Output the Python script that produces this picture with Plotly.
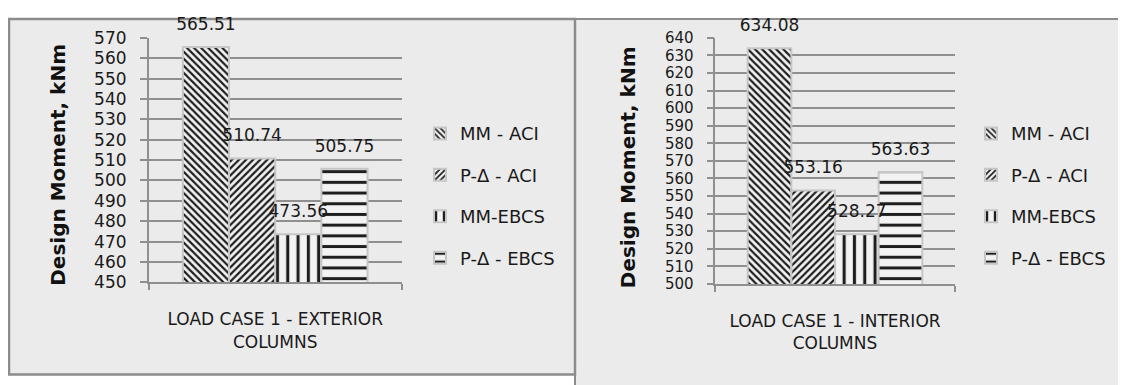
import plotly.graph_objects as go

# ---------------- data ----------------
series_names = ["MM - ACI", "P-Δ - ACI", "MM-EBCS", "P-Δ - EBCS"]
ext_category = ["LOAD CASE 1 - EXTERIOR COLUMNS"]
ext_ticktext = ["LOAD CASE 1 - EXTERIOR<br>COLUMNS"]
ext_values = [565.51, 510.74, 473.56, 505.75]
int_category = ["LOAD CASE 1 - INTERIOR COLUMNS"]
int_ticktext = ["LOAD CASE 1 - INTERIOR<br>COLUMNS"]
int_values = [634.08, 553.16, 528.27, 563.63]
ext_yrange = [450, 570]
int_yrange = [500, 640]
y_title = "Design Moment, kNm"

# ---------------- styles ----------------
FONT = "DejaVu Sans"
patterns = [
    dict(shape="\\", size=5, solidity=0.45),
    dict(shape="/", size=5, solidity=0.45),
    dict(shape="|", size=10.3, solidity=0.3),
    dict(shape="-", size=10.7, solidity=0.28),
]
BAR_BG = "#f3f3f3"
BAR_FG = "#1e1e1e"
GRID = "#8f8f8f"
PANEL = "#ebebeb"
BORDER = "#8c8c8c"
W, H = 1118, 378
# mapping from picture pixels to figure pixels (page offset / photo scale)
OX, OY, SY = 8, 16, 0.952

fig = go.Figure()

def add_panel(cat, values, xa, ya, legend_name):
    for i, (name, val) in enumerate(zip(series_names, values)):
        p = patterns[i]
        fig.add_trace(go.Bar(
            x=cat, y=[val], name=name, xaxis=xa, yaxis=ya,
            offsetgroup=str(i), legend=legend_name, showlegend=True,
            marker=dict(color=BAR_BG,
                        line=dict(color="#c6c6c6", width=2),
                        pattern=dict(shape=p["shape"], size=p["size"],
                                     solidity=p["solidity"], fgcolor=BAR_FG,
                                     bgcolor=BAR_BG, fillmode="replace")),
            hoverinfo="skip",
        ))
    for i, (name, val) in enumerate(zip(series_names, values)):
        fig.add_trace(go.Scatter(
            x=cat, y=[val], xaxis=xa, yaxis=ya, mode="markers+text",
            offsetgroup=str(i), showlegend=False,
            text=[f"{val:.2f}"], textposition="top center",
            textfont=dict(family=FONT, size=17, color="#1a1a1a"),
            marker=dict(size=19, color="rgba(0,0,0,0)"),
            cliponaxis=False, hoverinfo="skip",
        ))

add_panel(ext_category, ext_values, "x", "y", "legend")
add_panel(int_category, int_values, "x2", "y2", "legend2")

def px_x(v):
    return (v - OX) / W

def fy(v):
    return (v - OY) / SY

def px_y(v):
    return 1 - fy(v) / H

axis_common = dict(
    showline=True, linecolor=GRID, linewidth=1.5,
    ticks="outside", tickcolor=GRID, tickwidth=1.5,
)
xtickfont = dict(family=FONT, size=17, color="#1a1a1a")

fig.update_layout(
    width=W, height=H,
    margin=dict(l=0, r=0, t=0, b=0),
    paper_bgcolor="white", plot_bgcolor="rgba(0,0,0,0)",
    barmode="group", bargap=0.27, bargroupgap=0,
    scattermode="group", scattergap=0.27,
    xaxis=dict(domain=[px_x(148.7), px_x(401.7)], anchor="y", type="category",
               tickvals=ext_category, ticktext=ext_ticktext, tickfont=xtickfont,
               tickson="boundaries", ticklen=6, ticklabelstandoff=21,
               showgrid=False, **axis_common),
    yaxis=dict(domain=[px_y(281.7), px_y(36)], anchor="x", range=ext_yrange,
               dtick=10, ticklen=7, ticklabelstandoff=10,
               tickfont=dict(family=FONT, size=17, color="#1a1a1a"),
               showgrid=True, gridcolor=GRID, gridwidth=1.5, zeroline=False,
               **axis_common),
    xaxis2=dict(domain=[px_x(715.4), px_x(954.6)], anchor="y2", type="category",
                tickvals=int_category, ticktext=int_ticktext, tickfont=xtickfont,
                tickson="boundaries", ticklen=6, ticklabelstandoff=21,
                showgrid=False, **axis_common),
    yaxis2=dict(domain=[px_y(283.3), px_y(36)], anchor="x2", range=int_yrange,
                dtick=10, ticklen=7, ticklabelstandoff=10,
                tickfont=dict(family=FONT, size=15, color="#1a1a1a"),
                showgrid=True, gridcolor=GRID, gridwidth=1.5, zeroline=False,
                **axis_common),
    legend=dict(x=px_x(420), y=1 - 102.7 / H, xanchor="left", yanchor="top",
                bgcolor="rgba(0,0,0,0)", font=dict(family=FONT, size=18, color="#1a1a1a"),
                tracegroupgap=15, itemclick=False, itemdoubleclick=False),
    legend2=dict(x=px_x(971), y=1 - 102.7 / H, xanchor="left", yanchor="top",
                 bgcolor="rgba(0,0,0,0)", font=dict(family=FONT, size=18, color="#1a1a1a"),
                 tracegroupgap=15, itemclick=False, itemdoubleclick=False),
    showlegend=True,
)

# each trace its own legend group so tracegroupgap spaces them
for i, tr in enumerate(fig.data):
    tr.legendgroup = f"g{i}"

# panel backgrounds and borders
fig.add_shape(type="rect", xref="paper", yref="paper",
              x0=px_x(575), x1=px_x(1160), y0=-0.2, y1=1 - 1 / H,
              fillcolor=PANEL, line=dict(color=BORDER, width=2), layer="below")
fig.add_shape(type="rect", xref="paper", yref="paper",
              x0=px_x(9), x1=px_x(575), y0=1.5 / H, y1=1 - 1 / H,
              fillcolor=PANEL, line=dict(color=BORDER, width=2.5), layer="below")

# y-axis titles
for xc, yc in [(58.5, 164), (628, 166)]:
    fig.add_annotation(text=y_title, xref="paper", yref="paper",
                       x=px_x(xc), y=px_y(yc), showarrow=False, textangle=-90,
                       font=dict(family=FONT, size=20, color="#111111", weight="bold"),
                       xanchor="center", yanchor="middle")

fig.write_html("out.html")
